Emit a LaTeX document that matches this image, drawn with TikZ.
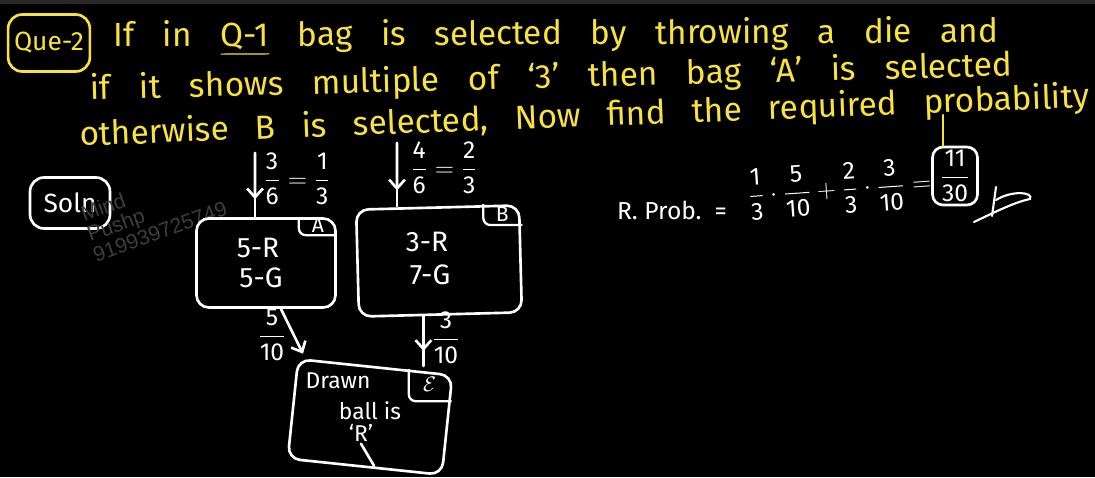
\documentclass[tikz,border=0pt]{standalone}
\usepackage{amsmath}
\usepackage{fontspec}
\setmainfont{Fira Sans}
\newfontfamily\markfont{Liberation Sans}
\usetikzlibrary{arrows.meta, calc}

\definecolor{chalkyellow}{RGB}{248,226,62}
\definecolor{boardtop}{RGB}{40,40,40}
\definecolor{markgrey}{RGB}{62,62,62}

\newcommand{\fr}[2]{\dfrac{\text{#1}}{\text{#2}}}

\tikzset{
  pen/.style={white, line width=1.5pt, line cap=round},
  ypen/.style={chalkyellow, line width=1.5pt, line cap=round},
  qline/.style={text=chalkyellow, font=\fontsize{19}{21}\selectfont, anchor=base west, inner sep=0pt},
  bagbox/.style={draw=white, line width=1.5pt, rounded corners=7pt, inner sep=0pt},
  btext/.style={text=white, font=\fontsize{16}{18}\selectfont, inner sep=1pt},
  ftext/.style={text=white, font=\fontsize{14}{16}\selectfont, inner sep=1pt},
  cornertag/.style={white, line width=1.3pt, rounded corners=4pt},
  wmark/.style={text=markgrey, font=\markfont\fontsize{12}{14}\selectfont, rotate=20, anchor=base west, inner sep=0pt}
}

\begin{document}
\begin{tikzpicture}[x=0.02cm, y=-0.02cm, >={Straight Barb[length=5pt, width=9pt]}]
    \fill[black] (0,0) rectangle (1095,477);
    \fill[boardtop] (0,0) rectangle (1095,4);
    \useasboundingbox (0,0) rectangle (1095,477);

    % question
    \node[draw=chalkyellow, line width=1.5pt, rounded corners=8pt, minimum width=1.56cm, minimum height=1.14cm, text=chalkyellow, font=\fontsize{15}{17}\selectfont] (que) at (49,43) {Que-2};
    \node[qline, rotate=0.3] (l1) at (113,47) {\spaceskip=16.3pt If in \underline{Q-1} bag is selected by throwing a die and};
    \node[qline, rotate=1.5] (l2) at (90,100) {\spaceskip=16.4pt if it shows multiple of `3' then bag `A' is selected};
    \node[qline, rotate=2.2] (l3) at (80,146) {\spaceskip=15pt otherwise B is selected, Now find the required probability};

    % solution
    \node[draw=white, line width=1.5pt, rounded corners=8pt, minimum width=1.6cm, minimum height=1.02cm, text=white, font=\fontsize{15}{17}\selectfont] (soln) at (70,203) {Soln};

    \node[wmark] (wm1) at (84,222) {Mind};
    \node[wmark] (wm2) at (90,242) {Pushp};
    \node[wmark] (wm3) at (96,263) {919939725749};

    % bags and the event
    \node[bagbox, minimum width=2.78cm, minimum height=1.78cm] (A) at (266,263) {};
    \node[bagbox, minimum width=3.26cm, minimum height=2.14cm, rotate=1.5] (B) at (439,261) {};
    \node[bagbox, minimum width=3.1cm, minimum height=2cm, rotate=-6] (E) at (370,417) {};

    \draw[cornertag] ($(A.north east)+(-38,0)$) |- ($(A.north east)+(0,18)$);
    \draw[cornertag] ($(B.north east)+(-37,0)$) |- ($(B.north east)+(2,21)$);
    \draw[cornertag] ($(E.north east)+(-45,-5)$) |- ($(E.north east)+(-2,27)$);
    \node[btext, font=\fontsize{12}{14}\selectfont] (tA) at ($(A.north east)+(-19,8)$) {A};
    \node[btext, font=\fontsize{12}{14}\selectfont] (tB) at ($(B.north east)+(-18,10)$) {B};
    \node[btext, font=\fontsize{13}{15}\selectfont] (tE) at ($(E.north east)+(-24,10)$) {$\mathcal{E}$};

    \node[btext] (Ar) at (258,248) {5-R};
    \node[btext] (Ag) at (261,278) {5-G};
    \node[btext] (Br) at (427,242) {3-R};
    \node[btext] (Bg) at (430,275) {7-G};
    \node[btext, font=\fontsize{13}{15}\selectfont] (Ed) at (338,381) {Drawn};
    \node[btext, font=\fontsize{13}{15}\selectfont] (Eb) at (370,411) {ball is};
    \node[btext, font=\fontsize{13}{15}\selectfont] (Er) at (361,433) {`R'};
    \draw[pen] (Er.south) -- ++(13,22);

    % branches
    \coordinate (t1) at (255,153);
    \coordinate (t2) at (397,143);
    \coordinate (bs) at ($(B.south)+(-17,0)$);
    \draw[pen] (t1) -- (t1 |- A.north);
    \draw[pen, ->] (t1) -- ($(t1)!0.72!(t1 |- A.north)$);
    \draw[pen] (t2) -- (t2 |- B.north);
    \draw[pen, ->] (t2) -- ($(t2)!0.75!(t2 |- B.north)$);
    \draw[pen, ->] (A.-72) -- ($(E.north west)+(6,-4)$);
    \draw[pen] (bs) -- (bs |- E.north);
    \draw[pen, ->] (bs) -- ($(bs)!0.7!(bs |- E.north)$);

    \node[ftext] (p1) at (297,179) {$\fr{3}{6}=\fr{1}{3}$};
    \node[ftext] (p2) at (444,168) {$\fr{4}{6}=\fr{2}{3}$};
    \node[ftext] (p3) at (272,335) {$\fr{5}{10}$};
    \node[ftext] (p4) at (446,338) {$\fr{3}{10}$};

    % answer
    \node[btext, font=\fontsize{14}{16}\selectfont, anchor=base west] (rp) at (615,219) {R. Prob.\ \ =};
    \node[ftext, anchor=west, rotate=4] (sum) at (746,195) {$\fr{1}{3}\cdot\fr{5}{10}+\fr{2}{3}\cdot\fr{3}{10}=$};
    \node[ftext, draw=white, line width=1.5pt, rounded corners=6pt, minimum width=0.9cm, minimum height=1.16cm] (ans) at (955,176) {$\fr{11}{30}$};
    \coordinate (pstem) at (943,115);
    \draw[ypen] (pstem) -- (pstem |- ans.north);
    \draw[pen, line width=1.2pt] (974,222) .. controls (995,212) and (1015,202) .. (1030,199) .. controls (1034,192) and (1012,190) .. (996,200);
    \draw[pen, line width=1.2pt] (996,187) -- (992,216);
\end{tikzpicture}
\end{document}
